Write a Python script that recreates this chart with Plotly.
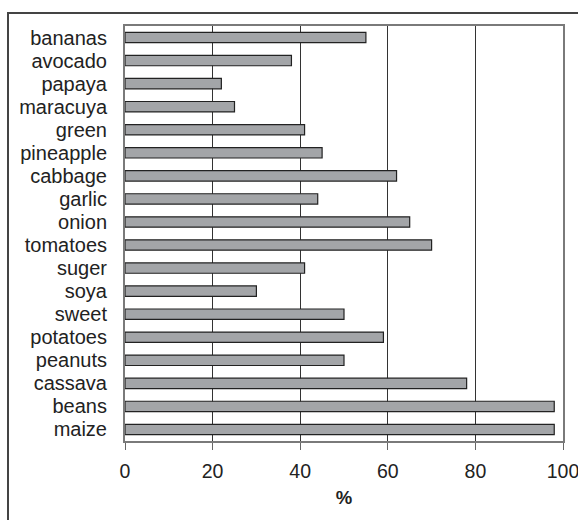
import plotly.graph_objects as go

categories = ["bananas", "avocado", "papaya", "maracuya", "green", "pineapple",
              "cabbage", "garlic", "onion", "tomatoes", "suger", "soya", "sweet",
              "potatoes", "peanuts", "cassava", "beans", "maize"]
values = [55, 38, 22, 25, 41, 45, 62, 44, 65, 70, 41, 30, 50, 59, 50, 78, 98, 98]
x_ticks = [0, 20, 40, 60, 80, 100]

W, H = 578, 520
L, R, T, B = 125, 15, 26, 79
pw = W - L - R
ph = H - T - B

fig = go.Figure(go.Bar(
    x=values, y=categories, orientation="h",
    marker=dict(color="#a3a5a8", line=dict(color="#222222", width=1.2)),
    width=0.45,
))

font_family = "Liberation Sans, Arial, sans-serif"

fig.update_layout(
    width=W, height=H,
    margin=dict(l=L, r=R, t=T, b=B, autoexpand=False),
    paper_bgcolor="white", plot_bgcolor="white",
    showlegend=False,
    font=dict(family=font_family, size=20, color="#222222"),
    xaxis=dict(
        range=[0, 100], tickmode="array", tickvals=x_ticks,
        ticktext=[str(v) for v in x_ticks],
        showgrid=True, gridcolor="#333333", gridwidth=1,
        showline=True, linecolor="#7a7a7a", linewidth=2, mirror=True,
        ticks="outside", ticklen=7, tickcolor="#666666",
        zeroline=False, ticklabeloverflow="allow", ticklabelstandoff=5,
        title=dict(text="<b>%</b>", font=dict(size=18.5), standoff=10),
        tickfont=dict(size=19.5),
    ),
    yaxis=dict(
        categoryorder="array", categoryarray=categories, autorange="reversed",
        tickmode="array", tickvals=categories, ticktext=categories,
        showline=True, linecolor="#7a7a7a", linewidth=2, mirror=True,
        showgrid=False, ticks="", ticklabelstandoff=12,
        tickfont=dict(size=20),
    ),
    shapes=[dict(
        type="rect", xref="paper", yref="paper",
        x0=(8 - L) / pw, x1=1.2, y0=-0.5, y1=(H - B - 13) / ph,
        line=dict(color="#444444", width=2), fillcolor="rgba(0,0,0,0)",
        layer="below",
    )],
)

fig.write_html(
    "out.html",
    config={"displayModeBar": False},
    post_script="document.body.style.margin='0';document.body.style.overflow='hidden';",
)
